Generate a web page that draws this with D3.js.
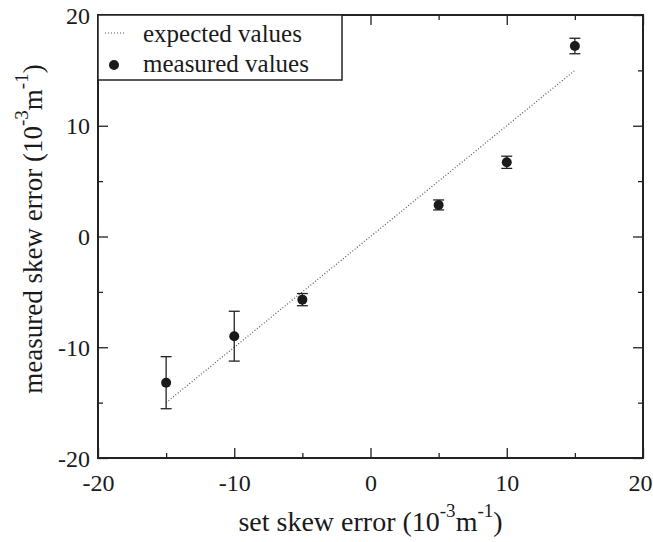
<!DOCTYPE html>
<html>
<head>
<meta charset="utf-8">
<script src="https://cdn.jsdelivr.net/npm/d3@7"></script>
<style>
  body { margin: 0; background: #fff; }
  text { font-family: 'Liberation Serif', 'Times New Roman', serif; fill: #1a1a1a; }
  .axis path, .axis line { stroke: #222; }
</style>
</head>
<body>
<div id="chart"></div>
<script>
// set skew error (10^-3 m^-1) and what was measured for each setting
const setValues = [-15, -10, -5, 5, 10, 15];
const measuredValues = [-13.2, -9.0, -5.7, 2.85, 6.7, 17.2];
const measuredErrors = [2.35, 2.25, 0.55, 0.45, 0.55, 0.7];

// expected line: measured == set
const expectedX = [-15, 15];
const expectedY = [-15, 15];

const majorTicks = [-20, -10, 0, 10, 20];
const minorTicks = [-15, -5, 5, 15];

const W = 653, H = 542;
const margin = {top: 15, right: 10, bottom: 84, left: 98};
const width = W - margin.left - margin.right;
const height = H - margin.top - margin.bottom;

const svg = d3.select('#chart').append('svg')
  .attr('width', W)
  .attr('height', H);

const chart = svg.append('g')
  .attr('transform', `translate(${margin.left}, ${margin.top})`);

const xScale = d3.scaleLinear().domain([-20, 20]).range([0, width]);
const yScale = d3.scaleLinear().domain([-20, 20]).range([height, 0]);

// plain hyphen for negatives, like the original
const tickFmt = d => String(d);

// ticks on all four sides, pointing inward
function drawAxis(axisFn, scale, transform, values, size, labels) {
  const g = chart.append('g')
    .attr('class', 'axis')
    .attr('transform', transform)
    .call(axisFn(scale).tickValues(values).tickSize(-size).tickSizeOuter(0)
      .tickFormat(labels ? tickFmt : ''));
  g.select('.domain').remove();
  g.selectAll('line').attr('stroke-width', 1.3);
  return g;
}

const xb = drawAxis(d3.axisBottom, xScale, `translate(0, ${height})`, majorTicks, 10, true);
xb.selectAll('text').attr('y', 33).attr('dy', 0).style('font-size', '24px')
  .attr('x', (d, i) => i === majorTicks.length - 1 ? -3 : 0); // keep the last label inside the page
drawAxis(d3.axisBottom, xScale, `translate(0, ${height})`, minorTicks, 5, false);
drawAxis(d3.axisTop, xScale, 'translate(0, 0)', majorTicks, 10, false);
drawAxis(d3.axisTop, xScale, 'translate(0, 0)', minorTicks, 5, false);

const yl = drawAxis(d3.axisLeft, yScale, 'translate(0, 0)', majorTicks, 10, true);
yl.selectAll('text').attr('x', -8).attr('dy', '0.34em').style('font-size', '24px');
drawAxis(d3.axisLeft, yScale, 'translate(0, 0)', minorTicks, 5, false);
drawAxis(d3.axisRight, yScale, `translate(${width}, 0)`, majorTicks, 10, false);
drawAxis(d3.axisRight, yScale, `translate(${width}, 0)`, minorTicks, 5, false);

// frame
chart.append('rect')
  .attr('x', 0).attr('y', 0)
  .attr('width', width).attr('height', height)
  .attr('fill', 'none')
  .attr('stroke', '#222')
  .attr('stroke-width', 2);

// expected values line
const line = d3.line()
  .x(d => xScale(d[0]))
  .y(d => yScale(d[1]));

chart.append('path')
  .datum(expectedX.map((x, i) => [x, expectedY[i]]))
  .attr('d', line)
  .attr('fill', 'none')
  .attr('stroke', '#555')
  .attr('stroke-width', 1.2)
  .attr('stroke-dasharray', '1,2');

// measured values with error bars
const pts = setValues.map((x, i) => ({x: x, y: measuredValues[i], e: measuredErrors[i]}));
const cap = 5.5;

const eb = chart.append('g').attr('stroke', '#222').attr('stroke-width', 1.3);
pts.forEach(p => {
  const px = xScale(p.x), top = yScale(p.y + p.e), bot = yScale(p.y - p.e);
  eb.append('line').attr('x1', px).attr('x2', px).attr('y1', top).attr('y2', bot);
  eb.append('line').attr('x1', px - cap).attr('x2', px + cap).attr('y1', top).attr('y2', top);
  eb.append('line').attr('x1', px - cap).attr('x2', px + cap).attr('y1', bot).attr('y2', bot);
});

chart.selectAll('.dot')
  .data(pts)
  .enter().append('circle')
  .attr('class', 'dot')
  .attr('cx', d => xScale(d.x))
  .attr('cy', d => yScale(d.y))
  .attr('r', 5)
  .attr('fill', '#1a1a1a');

// legend
const legend = chart.append('g');
legend.append('rect')
  .attr('x', 0).attr('y', 0)
  .attr('width', 244).attr('height', 65)
  .attr('fill', '#fff')
  .attr('stroke', '#222')
  .attr('stroke-width', 1.5);
legend.append('line')
  .attr('x1', 7).attr('x2', 27).attr('y1', 18).attr('y2', 18)
  .attr('stroke', '#555').attr('stroke-width', 1.2).attr('stroke-dasharray', '1,2');
legend.append('circle')
  .attr('cx', 16).attr('cy', 50).attr('r', 5).attr('fill', '#1a1a1a');
legend.append('text').attr('x', 45).attr('y', 27).style('font-size', '25px').text('expected values');
legend.append('text').attr('x', 45).attr('y', 57).style('font-size', '25px').text('measured values');

// axis titles with superscript units
function unitTitle(sel, label, size, sup) {
  sel.style('font-size', size + 'px');
  sel.append('tspan').text(label + ' (10');
  sel.append('tspan').attr('dy', -14).style('font-size', sup + 'px').text('-3');
  sel.append('tspan').attr('dy', 14).text('m');
  sel.append('tspan').attr('dy', -14).style('font-size', sup + 'px').text('-1');
  sel.append('tspan').attr('dy', 14).text(')');
}

unitTitle(svg.append('text')
  .attr('x', margin.left + width / 2)
  .attr('y', 531)
  .attr('text-anchor', 'middle'), 'set skew error', 28, 19);

unitTitle(svg.append('text')
  .attr('transform', 'translate(42, 229) rotate(-90)')
  .attr('text-anchor', 'middle'), 'measured skew error', 27, 19);
</script>
</body>
</html>
